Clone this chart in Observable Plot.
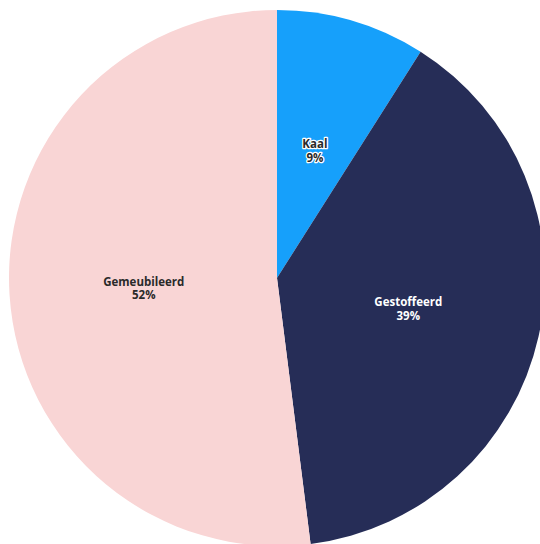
<!DOCTYPE html>
<html>
<head>
<meta charset="utf-8">
<script src="https://cdn.jsdelivr.net/npm/d3@7"></script>
<script src="https://cdn.jsdelivr.net/npm/@observablehq/plot@0.6"></script>
<style>
  html, body { margin: 0; padding: 0; background: #fff; }
  #chart { width: 540px; height: 544px; overflow: hidden; }
</style>
</head>
<body>
<div id="chart"></div>
<script>
const categories = ["Kaal", "Gestoffeerd", "Gemeubileerd"];
const values = [9, 39, 52];
const colors = ["#16a0fb", "#262d57", "#f9d5d5"];
const textFill = ["#2a2a2a", "#ffffff", "#2a2a2a"];
const textStroke = ["#ffffff", "#262d57", "#f9d5d5"];

const pie = d3.pie().sort(null).value(d => d.value)(
  categories.map((c, i) => ({ category: c, value: values[i], color: colors[i], tf: textFill[i], ts: textStroke[i] }))
);
const slices = pie.map(p => {
  const mid = (p.startAngle + p.endAngle) / 2;
  return { ...p.data, startAngle: p.startAngle, endAngle: p.endAngle,
           lx: Math.sin(mid) * 0.5, ly: Math.cos(mid) * 0.5,
           label: p.data.category + "\n" + p.data.value + "%" };
});

function pieMark(index, scales, values, dimensions, context) {
  const cx = scales.x(0), cy = scales.y(0);
  const r = scales.x(1) - scales.x(0);
  const arc = d3.arc().innerRadius(0).outerRadius(r);
  const g = d3.create("svg:g").attr("transform", `translate(${cx},${cy})`);
  g.selectAll("path").data(slices).join("path")
    .attr("d", d => arc(d))
    .attr("fill", d => d.color)
    .attr("stroke", "none");
  return g.node();
}

const chart = Plot.plot({
  width: 540,
  height: 544,
  marginLeft: 9,
  marginRight: -5,
  marginTop: 10,
  marginBottom: -2,
  x: { domain: [-1, 1], axis: null },
  y: { domain: [-1, 1], axis: null },
  style: { background: "#fff", overflow: "visible" },
  marks: [
    pieMark,
    Plot.text(slices, {
      x: "lx", y: "ly", text: "label", dy: 1,
      fill: d => d.tf, stroke: d => d.ts, strokeWidth: 2.5,
      fontSize: 11.5, fontWeight: "bold", fontFamily: "Open Sans", lineHeight: 1.15
    })
  ]
});
document.getElementById("chart").appendChild(chart);
</script>
</body>
</html>
